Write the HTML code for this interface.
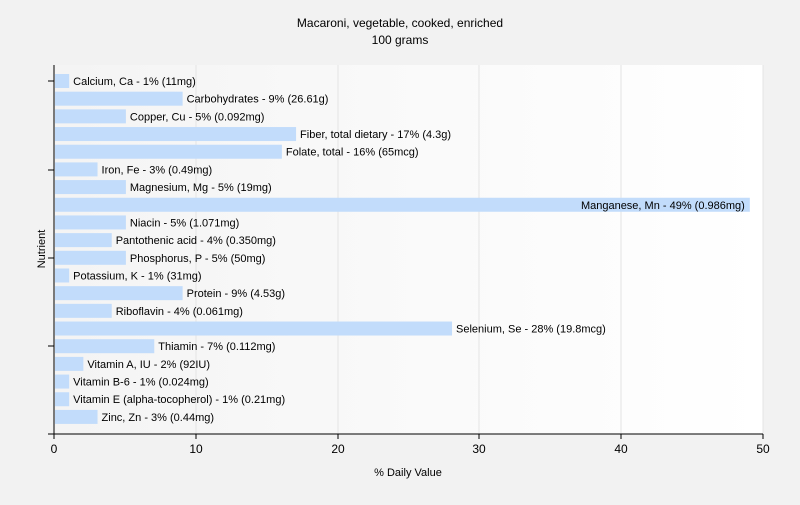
<!DOCTYPE html><html><head><style>body{margin:0;background:#f2f2f2;font-family:"Liberation Sans",sans-serif}</style></head><body>
<svg width="800" height="500" xmlns="http://www.w3.org/2000/svg" font-family="Liberation Sans, sans-serif">
<defs><linearGradient id="g" x1="0" x2="1"><stop offset="0" stop-color="#f4f4f4"/><stop offset="1" stop-color="#ffffff"/></linearGradient></defs>
<rect width="800" height="500" fill="#f2f2f2"/>
<rect x="54" y="65" width="709" height="369" fill="url(#g)"/>
<g stroke="#e4e4e4"><line x1="196" y1="65" x2="196" y2="434"/><line x1="338" y1="65" x2="338" y2="434"/><line x1="479" y1="65" x2="479" y2="434"/><line x1="621" y1="65" x2="621" y2="434"/><line x1="763" y1="65" x2="763" y2="434"/></g>
<text x="400" y="27" font-size="12" text-anchor="middle">Macaroni, vegetable, cooked, enriched</text>
<text x="400" y="44" font-size="12" text-anchor="middle">100 grams</text>
<g fill="#c2dcfb" id="bars"></g>
<g font-size="11" fill="#000" id="labels"></g>
<line x1="54" y1="65" x2="54" y2="434" stroke="#000"/>
<line x1="48" y1="434" x2="763" y2="434" stroke="#000"/>
<g stroke="#000"><line x1="48" y1="81" x2="54" y2="81"/><line x1="48" y1="170" x2="54" y2="170"/><line x1="48" y1="258" x2="54" y2="258"/><line x1="48" y1="346" x2="54" y2="346"/>
<line x1="54" y1="434" x2="54" y2="439"/><line x1="196" y1="434" x2="196" y2="439"/><line x1="338" y1="434" x2="338" y2="439"/><line x1="479" y1="434" x2="479" y2="439"/><line x1="621" y1="434" x2="621" y2="439"/><line x1="763" y1="434" x2="763" y2="439"/></g>
<g font-size="12" text-anchor="middle"><text x="54" y="453">0</text><text x="196" y="453">10</text><text x="338" y="453">20</text><text x="479" y="453">30</text><text x="621" y="453">40</text><text x="763" y="453">50</text></g>
<text x="408" y="476" font-size="11" text-anchor="middle">% Daily Value</text>
<text transform="translate(45,249) rotate(-90)" font-size="11" text-anchor="middle">Nutrient</text>
<script>
var d=[["Calcium, Ca - 1% (11mg)",1],["Carbohydrates - 9% (26.61g)",9],["Copper, Cu - 5% (0.092mg)",5],["Fiber, total dietary - 17% (4.3g)",17],["Folate, total - 16% (65mcg)",16],["Iron, Fe - 3% (0.49mg)",3],["Magnesium, Mg - 5% (19mg)",5],["Manganese, Mn - 49% (0.986mg)",49],["Niacin - 5% (1.071mg)",5],["Pantothenic acid - 4% (0.350mg)",4],["Phosphorus, P - 5% (50mg)",5],["Potassium, K - 1% (31mg)",1],["Protein - 9% (4.53g)",9],["Riboflavin - 4% (0.061mg)",4],["Selenium, Se - 28% (19.8mcg)",28],["Thiamin - 7% (0.112mg)",7],["Vitamin A, IU - 2% (92IU)",2],["Vitamin B-6 - 1% (0.024mg)",1],["Vitamin E (alpha-tocopherol) - 1% (0.21mg)",1],["Zinc, Zn - 3% (0.44mg)",3]];
var b=document.getElementById('bars'),l=document.getElementById('labels'),ns='http://www.w3.org/2000/svg';
d.forEach(function(e,i){var y=81+i*17.68,w=e[1]*14.18;var r=document.createElementNS(ns,'rect');r.setAttribute('x',55);r.setAttribute('y',y-7);r.setAttribute('width',w);r.setAttribute('height',14);b.appendChild(r);
var t=document.createElementNS(ns,'text');t.textContent=e[0];t.setAttribute('y',y+4);if(e[1]>40){t.setAttribute('x',54+w-4);t.setAttribute('text-anchor','end');}else t.setAttribute('x',54+w+5);l.appendChild(t);});
</script>
</svg></body></html>
